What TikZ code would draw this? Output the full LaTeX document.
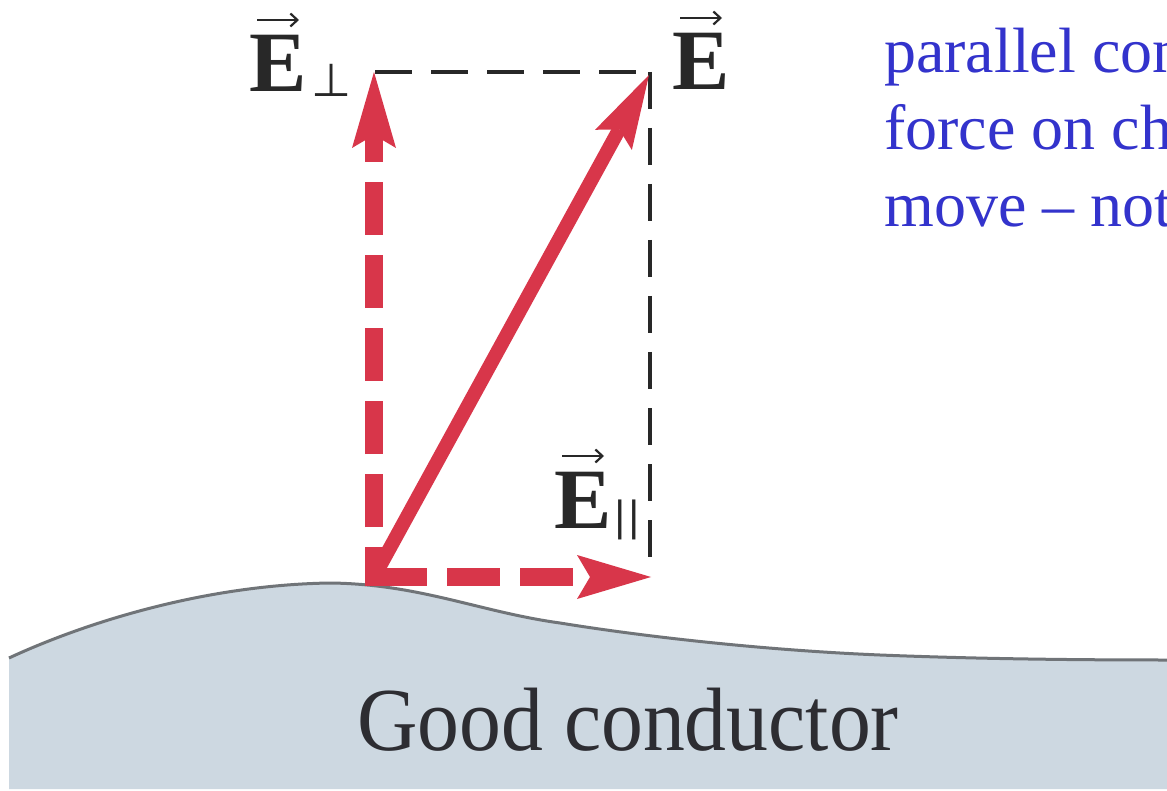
\documentclass[tikz,border=0pt]{standalone}
\usepackage{fontspec}
\setmainfont{Liberation Serif}
\newfontfamily\symfont{DejaVu Sans}
\newfontfamily\condfont[FakeStretch=0.93]{Liberation Serif}
\usetikzlibrary{arrows.meta}
\definecolor{vred}{RGB}{216,54,74}
\definecolor{cond}{RGB}{205,216,225}
\definecolor{edgegray}{RGB}{112,116,120}
\definecolor{dk}{RGB}{40,40,40}
\definecolor{note}{RGB}{51,51,204}
\tikzset{
  guide/.style={draw=dk, line width=3.5pt, dash pattern=on 37pt off 19pt},
  vecdash/.style={draw=vred, line width=18pt, dash pattern=on 53pt off 20pt},
  vecsolid/.style={draw=vred, line width=14pt},
  bigtip/.style={-{Stealth[length=#1,width=44pt,inset=13pt,line width=0pt]}},
  lab/.style={font=\fontsize{86}{86}\selectfont\bfseries, text=dk, inner sep=0pt, anchor=base west},
  subsym/.style={font=\symfont\fontsize{#1}{#1}\selectfont, text=dk, inner sep=0pt, anchor=center},
  overarrow/.style={draw=dk, line width=2.6pt, -{Straight Barb[length=7pt,width=13pt,line width=2.2pt]}},
  notetext/.style={font=\fontsize{64}{77}\selectfont, text=note, inner sep=0pt, anchor=base west}
}
\newcommand{\surfacepath}{(9,658) .. controls (80,625) and (200,585) .. (330,583)
  .. controls (420,584) and (480,612) .. (560,623)
  .. controls (640,636) and (760,650) .. (880,655)
  .. controls (980,659) and (1080,660) .. (1167,660)}
\begin{document}
\begin{tikzpicture}[x=1pt,y=-1pt]
\useasboundingbox (0,0) rectangle (1167,791);
\clip (0,0) rectangle (1167,791);
\fill[white] (0,0) rectangle (1167,791);

% conductor
\fill[cond] \surfacepath -- (1167,789) -- (9,789) -- cycle;
\draw[edgegray, line width=3pt] \surfacepath;
\node[font=\condfont\fontsize{90}{90}\selectfont, text={rgb,255:red,45;green,45;blue,50}, inner sep=0pt, anchor=base] (cname) at (628,750) {Good conductor};

% key points
\coordinate (O) at (374,577);
\coordinate (Obot) at (374,586);
\coordinate (Ptip) at (374,72);
\coordinate (Etip) at (649,75);
\coordinate (Rtip) at (651,577);
\coordinate (TL) at (375,72);
\coordinate (TR) at (650,72);
\coordinate (BR) at (650,566);

% guide lines
\draw[guide] (TL) -- (TR);
\draw[guide] (TR) -- (BR);

% vectors
\draw[vecdash, dash phase=14pt, bigtip=76pt] (Obot) -- (Ptip);
\draw[vecdash, bigtip=74pt] (O) -- (Rtip);
\draw[vecsolid, -{Stealth[length=74pt,width=42pt,inset=12pt,line width=0pt]}] (O) -- (Etip);

% labels
\node[lab] (Etot) at (672,90) {E};
\draw[overarrow] ([shift={(8,-72)}]Etot.base west) -- ++(42,0);
\node[lab] (Eperp) at (249,92) {E};
\draw[overarrow] ([shift={(8,-72)}]Eperp.base west) -- ++(42,0);
\node[subsym=46] (perp) at (331.5,80) {⊥};
\node[lab] (Epar) at (554,528) {E};
\draw[overarrow] ([shift={(8,-72)}]Epar.base west) -- ++(42,0);
\node[subsym=40] (par) at (627,520) {||};

% note text
\node[notetext] (t1) at (884,73) {parallel con};
\node[notetext] (t2) at (884,150) {force on ch};
\node[notetext] (t3) at (884,227) {move – not};
\end{tikzpicture}
\end{document}
